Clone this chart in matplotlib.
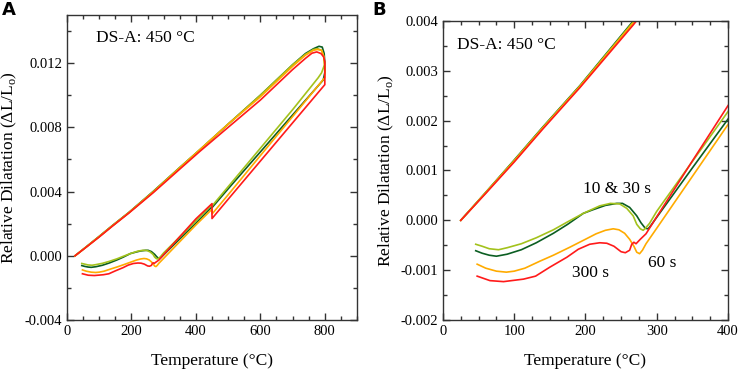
import matplotlib
matplotlib.use("Agg")
import matplotlib.pyplot as plt
from matplotlib.ticker import MultipleLocator, FuncFormatter

plt.rcParams['font.family'] = ['Liberation Serif', 'DejaVu Serif']
plt.rcParams['mathtext.fontset'] = 'custom'
plt.rcParams['mathtext.rm'] = 'Liberation Serif'
plt.rcParams['axes.unicode_minus'] = False

# dilatometry curves: temperature (°C) and relative dilatation, heating then cooling
T_10 = [25, 60, 100, 140, 192, 267, 350, 412, 500, 600, 700, 740, 765, 782, 792, 798, 800, 800,
        795, 700, 600, 500, 450, 450, 400, 350, 300, 292, 288, 284, 278, 272, 262, 252, 244,
        228, 210, 197, 175, 155, 131, 110, 90, 75, 65, 55, 46]
D_10 = [0, 0.00056, 0.00121, 0.00187, 0.0027, 0.0040, 0.0055, 0.0066, 0.0082, 0.0100, 0.0119,
        0.0126, 0.0129, 0.01305, 0.0130, 0.0126, 0.0120, 0.0114,
        0.01095, 0.00877, 0.00647, 0.00417, 0.0030, 0.00305, 0.00203, 0.00105, 0.00006, -0.0001,
        -0.00017, -0.00016, -0.00005, 0.00009, 0.00026, 0.00034, 0.00034,
        0.00030, 0.00021, 0.00014, -0.00008, -0.00026, -0.00045, -0.00059, -0.00068, -0.00072,
        -0.00070, -0.00066, -0.00061]

T_30 = [25, 60, 100, 140, 192, 267, 350, 412, 500, 600, 700, 740, 765, 778, 790, 797, 799,
        790, 779, 700, 600, 500, 450, 450, 400, 350, 300, 290, 284, 281, 277, 272, 267, 258,
        248, 235, 220, 197, 175, 155, 131, 110, 90, 78, 65, 55, 46]
D_30 = [0, 0.00056, 0.0012, 0.00186, 0.00269, 0.00398, 0.0055, 0.0066, 0.0082, 0.0100, 0.0119,
        0.01255, 0.01285, 0.0129, 0.0128, 0.0124, 0.0119,
        0.0114, 0.01108, 0.0091, 0.0067, 0.0043, 0.0031, 0.0032, 0.00218, 0.00118, 0.00018,
        -0.00006, -0.00016, -0.0002, -0.00017, -0.00008, 0.00009, 0.00024,
        0.00033, 0.00034, 0.00029, 0.00014, -0.00003, -0.00019, -0.00035, -0.00047, -0.00055,
        -0.00059, -0.00057, -0.00052, -0.00048]

T_60 = [25, 60, 100, 140, 192, 267, 350, 412, 500, 600, 700, 740, 765, 777, 790, 797, 800, 800,
        700, 600, 500, 450, 450, 400, 350, 300, 285, 280, 276, 272, 268, 262, 255, 247, 239,
        228, 215, 200, 178, 155, 136, 115, 100, 89, 75, 60, 48]
D_60 = [0, 0.00055, 0.00119, 0.00185, 0.00268, 0.00396, 0.00547, 0.0066, 0.0082, 0.0099, 0.0118,
        0.0125, 0.0128, 0.01285, 0.0128, 0.0124, 0.0118, 0.0111,
        0.00867, 0.00624, 0.0038, 0.0026, 0.0029, 0.00192, 0.00088, -0.00016, -0.00047, -0.0006,
        -0.00067, -0.00064, -0.00052, -0.00038, -0.00026, -0.00019, -0.00017,
        -0.0002, -0.00027, -0.00038, -0.00054, -0.0007, -0.00082, -0.00096, -0.00102, -0.00104,
        -0.00102, -0.00096, -0.00088]

T_300 = [25, 60, 100, 140, 192, 267, 350, 412, 500, 600, 700, 740, 760, 775, 788, 796, 800, 800,
         700, 600, 500, 450, 450, 400, 350, 300, 285, 277, 271, 268, 265, 262, 256, 250, 240,
         230, 220, 206, 190, 174, 150, 130, 113, 85, 66, 48]
D_300 = [0, 0.00054, 0.00117, 0.00183, 0.00266, 0.00392, 0.0054, 0.0065, 0.0080, 0.0097, 0.0116,
         0.0123, 0.01262, 0.0127, 0.0126, 0.0124, 0.0121, 0.01066,
         0.00828, 0.0059, 0.00352, 0.00232, 0.00325, 0.0023, 0.00119, 0.00007, -0.00027, -0.00038,
         -0.00047, -0.00044, -0.00048, -0.0006, -0.00065, -0.00063, -0.00052,
         -0.00046, -0.00045, -0.00048, -0.00058, -0.00074, -0.00094, -0.00112, -0.00118, -0.00123,
         -0.00121, -0.00112]

series = [(T_10, D_10, '#0b5e22'), (T_30, D_30, '#a3c21c'),
          (T_60, D_60, '#ffab00'), (T_300, D_300, '#ff1a1a')]


def fmt(v, pos):
    if abs(v) < 1e-12:
        return '0.000'
    return '%.3f' % v


def draw(ax, xlim, ylim, xmaj, xmin, ymaj, ymin):
    for T, D, c in series:
        ax.plot(T, D, color=c, lw=1.2)
    ax.set_xlim(*xlim)
    ax.set_ylim(*ylim)
    ax.xaxis.set_major_locator(MultipleLocator(xmaj))
    ax.xaxis.set_minor_locator(MultipleLocator(xmin))
    ax.yaxis.set_major_locator(MultipleLocator(ymaj))
    ax.yaxis.set_minor_locator(MultipleLocator(ymin))
    ax.yaxis.set_major_formatter(FuncFormatter(fmt))
    ax.tick_params(which='both', direction='in', top=True, right=True, labelsize=10.5,
                   color='#333333')
    ax.tick_params(which='major', length=5, width=1)
    ax.tick_params(which='minor', length=3, width=1)
    for s in ax.spines.values():
        s.set_color('#333333')
        s.set_linewidth(1)
    ax.set_xlabel('Temperature (°C)', fontsize=12.5, labelpad=11)
    ax.set_ylabel('Relative Dilatation (ΔL/L$_\\mathregular{o}$)', fontsize=12.5)
    ax.yaxis.set_label_coords(-0.165, 0.5)


fig = plt.figure(figsize=(7.4, 3.73), dpi=100)
axA = fig.add_axes([0.0905, 0.1421, 0.392, 0.8177])
axB = fig.add_axes([0.5986, 0.1421, 0.3851, 0.8016])

draw(axA, (0, 900), (-0.004, 0.015), 200, 50, 0.004, 0.002)
draw(axB, (0, 400), (-0.002, 0.004), 100, 25, 0.001, 0.0005)

axA.text(90, 0.01355, 'DS-A: 450 °C', fontsize=12.5, va='center')
axB.text(20, 0.00352, 'DS-A: 450 °C', fontsize=12.5, va='center')
axB.text(197, 0.00063, '10 & 30 s', fontsize=12.5, va='center')
axB.text(288, -0.00085, '60 s', fontsize=12.5, va='center')
axB.text(181, -0.00105, '300 s', fontsize=12.5, va='center')

fig.text(0.003, 0.998, 'A', family='DejaVu Sans', weight='bold', fontsize=13, va='top')
fig.text(0.503, 0.998, 'B', family='DejaVu Sans', weight='bold', fontsize=13, va='top')

fig.savefig('out.png', dpi=100)
